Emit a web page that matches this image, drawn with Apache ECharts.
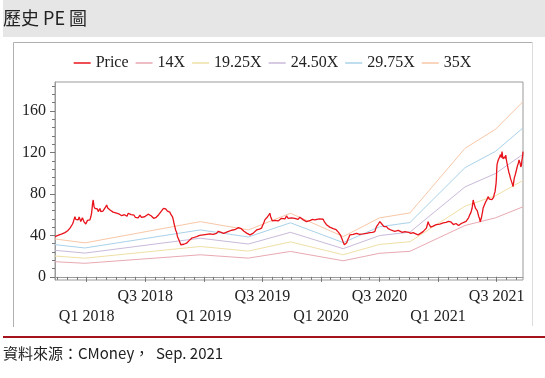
<!DOCTYPE html>
<html>
<head>
<meta charset="utf-8">
<script src="https://cdn.jsdelivr.net/npm/echarts@6/dist/echarts.min.js"></script>
<style>
html, body { margin: 0; padding: 0; background: #fff; }
#chart { width: 545px; height: 378px; }
</style>
</head>
<body>
<div id="chart"></div>
<script>
// 股價：[時間(年份小數), 收盤價]
var priceData = [
  [2017.730, 38.9], [2017.745, 39.5], [2017.760, 40.2], [2017.775, 39.8], [2017.790, 41.5],
  [2017.803, 41.0], [2017.815, 42.7], [2017.829, 43.7], [2017.838, 44.5], [2017.845, 45.5],
  [2017.852, 45.0], [2017.858, 47.0], [2017.865, 46.5], [2017.872, 48.5], [2017.880, 51.0],
  [2017.886, 53.0], [2017.893, 55.5], [2017.900, 58.1], [2017.907, 55.5], [2017.915, 56.5],
  [2017.921, 54.0], [2017.928, 55.0], [2017.936, 57.8], [2017.945, 56.5], [2017.950, 53.5],
  [2017.957, 55.0], [2017.964, 57.0], [2017.971, 56.6], [2017.978, 53.0], [2017.985, 53.5],
  [2017.993, 51.0], [2018.000, 51.7], [2018.007, 54.5], [2018.014, 56.0], [2018.021, 54.0],
  [2018.028, 55.0], [2018.036, 58.0], [2018.043, 62.0], [2018.050, 70.0], [2018.056, 74.2],
  [2018.063, 68.0], [2018.071, 66.0], [2018.078, 67.5], [2018.085, 64.6], [2018.092, 65.5],
  [2018.099, 63.0], [2018.107, 64.5], [2018.114, 66.0], [2018.121, 63.0], [2018.128, 61.4],
  [2018.139, 63.5], [2018.150, 65.0], [2018.160, 67.0], [2018.171, 69.4], [2018.180, 66.5],
  [2018.190, 67.0], [2018.200, 64.5], [2018.213, 65.5], [2018.226, 62.5], [2018.240, 63.5],
  [2018.255, 61.5], [2018.270, 63.0], [2018.280, 60.5], [2018.290, 61.0], [2018.300, 59.0],
  [2018.312, 58.0], [2018.323, 60.0], [2018.335, 60.5], [2018.345, 58.5], [2018.355, 61.4],
  [2018.370, 59.5], [2018.380, 60.0], [2018.390, 58.5], [2018.405, 59.5], [2018.415, 57.5],
  [2018.427, 58.0], [2018.440, 57.0], [2018.455, 59.5], [2018.468, 57.5], [2018.483, 56.6],
  [2018.495, 58.0], [2018.510, 58.5], [2018.525, 60.5], [2018.540, 61.4], [2018.550, 59.0],
  [2018.560, 58.0], [2018.572, 56.5], [2018.583, 55.0], [2018.594, 57.5], [2018.605, 58.5],
  [2018.615, 60.0], [2018.625, 61.4], [2018.635, 63.0], [2018.645, 64.0], [2018.656, 66.0],
  [2018.667, 67.8], [2018.675, 65.5], [2018.682, 66.0], [2018.690, 63.5], [2018.696, 64.6],
  [2018.703, 62.0], [2018.710, 62.5], [2018.718, 60.5], [2018.725, 61.4], [2018.733, 58.0],
  [2018.740, 55.0], [2018.747, 51.0], [2018.753, 48.5], [2018.760, 45.0], [2018.768, 43.0],
  [2018.775, 39.0], [2018.782, 37.3], [2018.790, 35.0], [2018.797, 33.0], [2018.804, 31.0],
  [2018.811, 29.2], [2018.820, 30.5], [2018.830, 31.5], [2018.842, 31.0], [2018.853, 32.5],
  [2018.864, 34.0], [2018.875, 35.0], [2018.886, 36.5], [2018.896, 37.3], [2018.905, 36.5],
  [2018.915, 38.0], [2018.927, 37.5], [2018.939, 38.9], [2018.952, 38.5], [2018.965, 40.0],
  [2018.980, 39.5], [2018.995, 40.5], [2019.010, 40.0], [2019.025, 41.0], [2019.038, 40.5],
  [2019.052, 41.4], [2019.066, 41.8], [2019.080, 41.0], [2019.095, 41.8], [2019.109, 42.0],
  [2019.125, 44.0], [2019.137, 45.3], [2019.148, 43.0], [2019.160, 43.5], [2019.170, 42.0],
  [2019.180, 42.0], [2019.190, 43.0], [2019.200, 42.5], [2019.212, 44.0], [2019.223, 43.7],
  [2019.237, 45.0], [2019.251, 44.0], [2019.265, 45.5], [2019.280, 46.0], [2019.295, 47.5],
  [2019.308, 48.5], [2019.320, 46.5], [2019.330, 45.0], [2019.343, 44.0], [2019.355, 43.0],
  [2019.370, 42.0], [2019.382, 41.0], [2019.394, 40.5], [2019.407, 41.5], [2019.420, 42.0],
  [2019.435, 43.5], [2019.451, 45.3], [2019.463, 44.5], [2019.475, 46.0], [2019.485, 45.5],
  [2019.493, 47.0], [2019.500, 49.0], [2019.508, 51.0], [2019.515, 53.0], [2019.521, 55.0],
  [2019.533, 56.0], [2019.545, 58.0], [2019.555, 57.0], [2019.564, 61.4], [2019.571, 58.0],
  [2019.578, 56.0], [2019.585, 54.0], [2019.592, 53.3], [2019.600, 55.5], [2019.610, 54.5],
  [2019.620, 55.5], [2019.635, 54.0], [2019.649, 55.0], [2019.663, 56.5], [2019.680, 57.0],
  [2019.693, 56.0], [2019.706, 58.8], [2019.720, 56.5], [2019.735, 56.0], [2019.750, 57.0],
  [2019.763, 55.6], [2019.777, 56.5], [2019.790, 57.0], [2019.805, 55.5], [2019.820, 57.5],
  [2019.835, 56.0], [2019.850, 55.0], [2019.863, 54.0], [2019.877, 53.3], [2019.893, 55.0],
  [2019.910, 54.5], [2019.928, 55.5], [2019.948, 55.0], [2019.965, 54.0], [2019.985, 56.0],
  [2020.002, 54.5], [2020.019, 55.6], [2020.030, 53.0], [2020.040, 52.0], [2020.050, 50.0],
  [2020.061, 48.5], [2020.075, 48.0], [2020.090, 47.0], [2020.105, 46.5], [2020.119, 45.3],
  [2020.130, 45.5], [2020.140, 44.0], [2020.150, 43.0], [2020.161, 42.0], [2020.168, 40.0],
  [2020.175, 38.0], [2020.182, 36.0], [2020.189, 34.0], [2020.195, 33.0], [2020.200, 31.0],
  [2020.206, 30.0], [2020.212, 29.2], [2020.220, 33.0], [2020.230, 36.0], [2020.238, 38.0],
  [2020.247, 40.5], [2020.260, 39.5], [2020.275, 41.0], [2020.290, 40.5], [2020.304, 42.0],
  [2020.317, 41.5], [2020.330, 41.0], [2020.345, 40.0], [2020.360, 41.4], [2020.375, 40.5],
  [2020.390, 42.0], [2020.403, 41.5], [2020.417, 42.7], [2020.430, 41.5], [2020.440, 43.0],
  [2020.450, 42.5], [2020.460, 43.7], [2020.467, 45.5], [2020.474, 48.5], [2020.482, 50.0],
  [2020.490, 51.0], [2020.497, 52.0], [2020.503, 53.3], [2020.512, 51.5], [2020.520, 51.0],
  [2020.526, 49.5], [2020.531, 50.1], [2020.538, 48.5], [2020.545, 49.0], [2020.552, 47.5],
  [2020.560, 48.5], [2020.574, 46.5], [2020.588, 47.0], [2020.602, 45.0], [2020.616, 45.3],
  [2020.630, 44.0], [2020.645, 43.7], [2020.660, 44.8], [2020.673, 44.5], [2020.695, 43.0],
  [2020.716, 43.7], [2020.733, 42.5], [2020.750, 43.0], [2020.768, 42.0], [2020.787, 42.7],
  [2020.800, 41.5], [2020.810, 41.5], [2020.820, 40.5], [2020.829, 40.5], [2020.840, 41.0],
  [2020.850, 42.0], [2020.861, 41.5], [2020.872, 43.7], [2020.886, 45.0], [2020.900, 47.0],
  [2020.908, 50.0], [2020.915, 53.3], [2020.922, 51.0], [2020.930, 50.0], [2020.937, 48.0],
  [2020.944, 48.5], [2020.957, 49.0], [2020.970, 50.0], [2020.985, 50.5], [2021.000, 51.7],
  [2021.015, 51.0], [2021.030, 52.5], [2021.044, 52.0], [2021.057, 53.3], [2021.068, 52.5],
  [2021.080, 54.0], [2021.090, 53.5], [2021.100, 55.0], [2021.110, 53.0], [2021.120, 52.0],
  [2021.131, 50.5], [2021.142, 50.1], [2021.153, 51.5], [2021.165, 51.0], [2021.175, 49.5],
  [2021.186, 50.1], [2021.198, 51.5], [2021.210, 51.0], [2021.219, 52.5], [2021.228, 51.7],
  [2021.239, 53.5], [2021.250, 55.0], [2021.260, 57.0], [2021.270, 59.8], [2021.280, 62.0],
  [2021.290, 66.0], [2021.295, 70.0], [2021.300, 74.2], [2021.306, 71.0], [2021.313, 70.0],
  [2021.320, 66.0], [2021.327, 67.0], [2021.334, 64.0], [2021.341, 63.0], [2021.348, 58.0],
  [2021.355, 56.0], [2021.360, 53.0], [2021.364, 53.3], [2021.370, 57.0], [2021.375, 60.0],
  [2021.380, 63.0], [2021.384, 66.2], [2021.395, 68.0], [2021.405, 72.0], [2021.415, 74.0],
  [2021.427, 77.4], [2021.438, 75.0], [2021.450, 76.0], [2021.460, 74.5], [2021.469, 75.9],
  [2021.475, 77.0], [2021.480, 80.0], [2021.486, 82.0], [2021.492, 83.9], [2021.495, 90.0],
  [2021.498, 95.0], [2021.500, 102.0], [2021.503, 108.0], [2021.509, 111.0], [2021.515, 113.0],
  [2021.520, 112.0], [2021.526, 116.0], [2021.533, 118.0], [2021.540, 115.0], [2021.546, 120.8],
  [2021.550, 117.0], [2021.554, 114.0], [2021.561, 112.8], [2021.566, 115.0], [2021.570, 116.0],
  [2021.574, 114.0], [2021.578, 117.6], [2021.583, 113.0], [2021.588, 110.0], [2021.593, 107.0],
  [2021.597, 104.8], [2021.604, 101.0], [2021.612, 98.0], [2021.618, 95.0], [2021.626, 93.5],
  [2021.633, 90.0], [2021.640, 87.0], [2021.645, 91.0], [2021.650, 95.0], [2021.660, 99.0],
  [2021.669, 103.1], [2021.675, 106.0], [2021.680, 108.0], [2021.686, 110.0], [2021.691, 112.8],
  [2021.696, 111.0], [2021.700, 110.0], [2021.706, 106.0], [2021.712, 108.0], [2021.715, 112.0],
  [2021.718, 114.0], [2021.722, 117.0], [2021.725, 120.8]
];

// 近四季 EPS 轉折點，用來畫本益比河流線
var epsYears = [2017.730, 2017.985, 2018.970, 2019.380, 2019.740, 2020.190, 2020.500, 2020.760, 2021.230, 2021.490, 2021.725];
var epsValues = [1.046, 0.937, 1.523, 1.294, 1.754, 1.111, 1.626, 1.763, 3.543, 4.069, 4.829];

var multiples = [14, 19.25, 24.5, 29.75, 35];
var bandNames = ['14X', '19.25X', '24.50X', '29.75X', '35X'];
var bandColors = ['#e9a9b2', '#efe0a6', '#c9bada', '#a9d2ea', '#f8c7a8'];

var yLabelValues = [0, 40, 80, 120, 160];
var quarterValues = [2018, 2018.5, 2019, 2019.5, 2020, 2020.5, 2021, 2021.5];

var serif = '"Liberation Serif", "Times New Roman", serif';
var cjk = '"Noto Sans CJK TC", "Noto Sans CJK SC", sans-serif';

// 刻度：每月、每 8 點
var monthTicks = [];
for (var m = 0; m < 48; m++) {
  monthTicks.push(2017.75 + m / 12);
}
var yMinorTicks = [];
for (var v = 0; v <= 184; v += 8) {
  yMinorTicks.push(v);
}

var series = [];
multiples.forEach(function (k, i) {
  series.push({
    name: bandNames[i],
    type: 'line',
    data: epsYears.map(function (t, j) { return [t, epsValues[j] * k]; }),
    showSymbol: false,
    symbol: 'none',
    lineStyle: { color: bandColors[i], width: 1 },
    itemStyle: { color: bandColors[i] },
    silent: true,
    z: 2
  });
});
series.push({
  name: 'Price',
  type: 'line',
  data: priceData,
  showSymbol: false,
  symbol: 'none',
  lineStyle: { color: '#e8131b', width: 1.3 },
  itemStyle: { color: '#e8131b' },
  z: 3
});

var chart = echarts.init(document.getElementById('chart'), null, { renderer: 'canvas' });

chart.setOption({
  animation: false,
  backgroundColor: '#fff',
  graphic: [
    { type: 'rect', shape: { x: 3, y: 0, width: 542, height: 37 }, style: { fill: '#e6e6e6' }, z: -10 },
    { type: 'text', x: 3, y: 18, style: { text: '歷史 PE 圖', fontSize: 18, fontFamily: cjk, fill: '#222', verticalAlign: 'middle' } },
    { type: 'polyline', shape: { points: [[13.5, 327], [13.5, 42.5], [532.5, 42.5]] }, style: { stroke: '#b0b0b0', lineWidth: 1, fill: null } },
    { type: 'line', shape: { x1: 532.5, y1: 42.5, x2: 532.5, y2: 326 }, style: { stroke: '#dcdcdc', lineWidth: 1 } },
    { type: 'rect', shape: { x: 3, y: 336, width: 542, height: 2 }, style: { fill: '#a5141c' } },
    { type: 'text', x: 3, y: 353, style: { text: '資料來源：CMoney，  Sep. 2021', fontSize: 15, fontFamily: cjk, fill: '#222', verticalAlign: 'middle' } }
  ],
  legend: {
    data: ['Price'].concat(bandNames),
    top: 50,
    left: 'center',
    icon: 'rect',
    itemWidth: 17,
    itemHeight: 1.5,
    itemGap: 7,
    textStyle: { fontFamily: serif, fontSize: 16, color: '#222' }
  },
  grid: {
    left: 55, top: 82, width: 468, height: 198,
    show: true, borderColor: '#9a9a9a', borderWidth: 1,
    containLabel: false
  },
  xAxis: [
    {
      type: 'value', min: 2017.73, max: 2021.725,
      axisLine: { show: true, lineStyle: { color: '#9a9a9a' } },
      axisTick: { show: true, customValues: monthTicks, length: 3, lineStyle: { color: '#777' } },
      axisLabel: { show: false },
      splitLine: { show: false }
    },
    {
      type: 'value', min: 2017.73, max: 2021.725, position: 'bottom',
      axisLine: { show: false },
      axisTick: { show: true, customValues: quarterValues, length: 5, lineStyle: { color: '#777' } },
      axisLabel: {
        customValues: quarterValues,
        margin: 7,
        fontFamily: serif, fontSize: 16, color: '#222',
        lineHeight: 20,
        formatter: function (val) {
          var yr = Math.floor(val + 1e-6);
          var q = (val - yr) < 0.25 ? 'Q1' : 'Q3';
          return q === 'Q1' ? '\n' + q + ' ' + yr : q + ' ' + yr;
        }
      },
      splitLine: { show: false }
    }
  ],
  yAxis: [
    {
      type: 'value', min: -3, max: 188,
      axisLine: { show: true, lineStyle: { color: '#9a9a9a' } },
      axisTick: { show: true, customValues: yLabelValues, length: 5, lineStyle: { color: '#777' } },
      axisLabel: { customValues: yLabelValues, margin: 9, fontFamily: serif, fontSize: 16, color: '#222' },
      splitLine: { show: false }
    },
    {
      type: 'value', min: -3, max: 188, position: 'left',
      axisLine: { show: false },
      axisTick: { show: true, customValues: yMinorTicks, length: 3, lineStyle: { color: '#777' } },
      axisLabel: { show: false },
      splitLine: { show: false }
    }
  ],
  series: series
});
</script>
</body>
</html>
